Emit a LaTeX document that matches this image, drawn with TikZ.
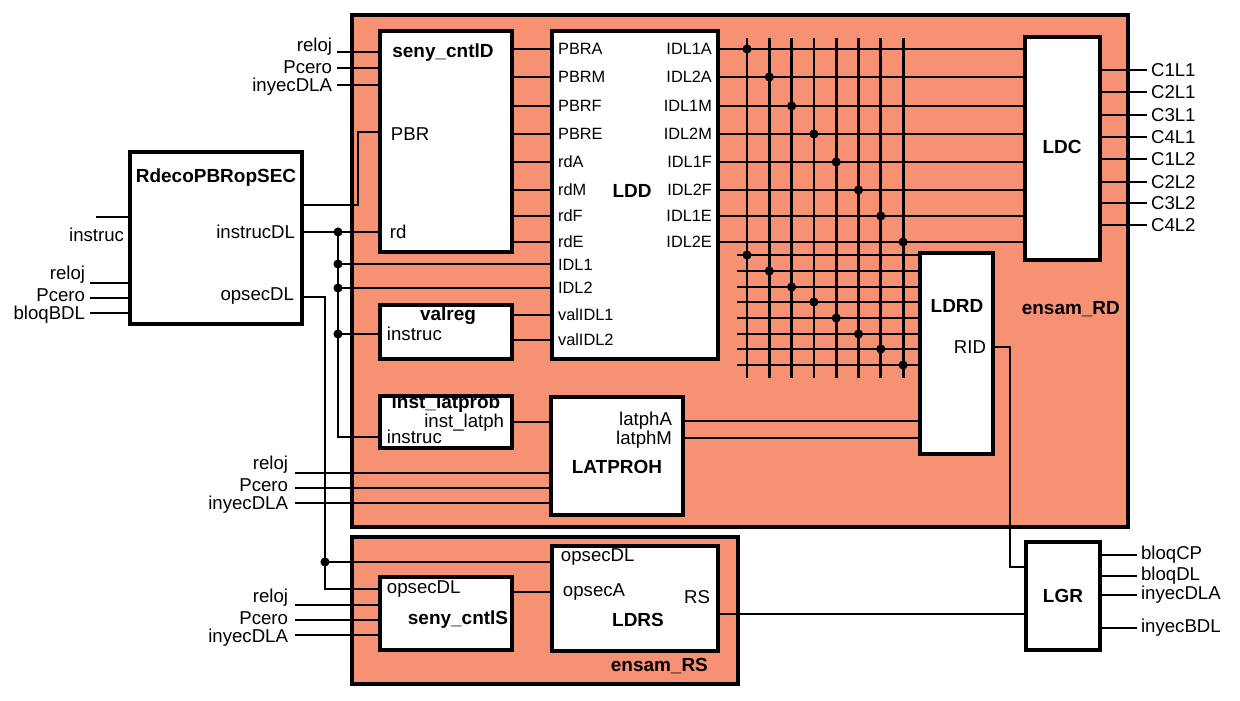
\documentclass[tikz,border=0pt]{standalone}
\usepackage{fontspec}
\setmainfont{Liberation Sans}
\usetikzlibrary{calc}
\definecolor{figS}{RGB}{246,145,116}
\tikzset{
  panel/.style 2 args={draw,line width=1.8pt,fill=figS,inner sep=0pt,outer sep=0pt,anchor=north west,minimum width=#1*0.02cm,minimum height=#2*0.02cm},
  blk/.style 2 args={draw,line width=2.2pt,fill=white,inner sep=0pt,outer sep=0pt,anchor=north west,minimum width=#1*0.02cm,minimum height=#2*0.02cm},
  wire/.style={line width=1.6pt},
  thinw/.style={line width=1.1pt},
  lbl/.style={font=\fontsize{10.6}{12}\selectfont,inner sep=1.5pt},
  pin/.style={font=\fontsize{9.3}{11}\selectfont,inner sep=1pt},
  ttl/.style={font=\fontsize{10.8}{12}\selectfont\bfseries,inner sep=1pt}
}

\begin{document}
\begin{tikzpicture}[x=0.02cm,y=-0.02cm]
\useasboundingbox (0,0) rectangle (1240,700);
% ensembles
\node[panel={776}{512}] (ensamRD) at (352,15) {};
\node[panel={386}{147}] (ensamRS) at (352,537) {};
\node[ttl,anchor=east] (ensamRDt) at (1122,309) {ensam\_RD};
\node[ttl,anchor=east] (ensamRSt) at (710,666) {ensam\_RS};
% blocks
\node[blk={172}{172}] (rdeco) at (130,152) {};
\node[blk={132}{221}] (senyD) at (380,31) {};
\node[blk={166}{328}] (ldd) at (552,31) {};
\node[blk={132}{54}] (valreg) at (380,305) {};
\node[blk={132}{52}] (instlat) at (380,396) {};
\node[blk={132}{118}] (latproh) at (551,397) {};
\node[blk={75}{223}] (ldc) at (1025,37) {};
\node[blk={73}{201}] (ldrd) at (920,253) {};
\node[blk={132}{73}] (senyS) at (380,577) {};
\node[blk={166}{105}] (ldrs) at (552,546) {};
\node[blk={74}{108}] (lgr) at (1026,542) {};
% block texts
\node[ttl] (rdecoT) at (216,178) {RdecoPBRopSEC};
\node[lbl,anchor=east] (rdecoI) at (298,232) {instrucDL};
\node[lbl,anchor=east] (rdecoO) at (297,296) {opsecDL};
\node[ttl] (senyDT) at (443,53) {seny\_cntlD};
\node[lbl,anchor=west] (senyDp) at (388,134) {PBR};
\node[lbl,anchor=west] (senyDr) at (387,232) {rd};
\node[ttl] (lddT) at (632,191) {LDD};
\node[pin,anchor=west] (lddI1) at (556,265) {IDL1};
\node[pin,anchor=west] (lddI2) at (556,288) {IDL2};
\node[pin,anchor=west] (lddV1) at (556,315) {valIDL1};
\node[pin,anchor=west] (lddV2) at (556,340) {valIDL2};
\node[ttl] (valregT) at (448,316) {valreg};
\node[lbl,anchor=west] (valregI) at (384,334) {instruc};
\node[ttl] (instlatT) at (446,404) {inst\_latprob};
\node[lbl,anchor=east] (instlatO) at (507,423) {inst\_latph};
\node[lbl,anchor=west] (instlatI) at (384,437) {instruc};
\node[lbl,anchor=east] (latA) at (675,421) {latphA};
\node[lbl,anchor=east] (latM) at (675,440) {latphM};
\node[ttl] (latT) at (617,467) {LATPROH};
\node[ttl] (ldcT) at (1062,147) {LDC};
\node[ttl] (ldrdT) at (957,306) {LDRD};
\node[lbl,anchor=east] (ldrdR) at (989,347) {RID};
\node[lbl,anchor=west] (senySI) at (384,589) {opsecDL};
\node[ttl] (senyST) at (458,620) {seny\_cntlS};
\node[lbl,anchor=west] (ldrsI) at (558,557) {opsecDL};
\node[lbl,anchor=west] (ldrsA) at (560,592) {opsecA};
\node[lbl,anchor=east] (ldrsR) at (713,597) {RS};
\node[ttl] (ldrsT) at (638,620) {LDRS};
\node[ttl] (lgrT) at (1063,596) {LGR};
% seny_cntlD -> LDD -> LDC
\foreach \y/\a/\b [count=\k] in {49/PBRA/IDL1A,77/PBRM/IDL2A,106/PBRF/IDL1M,134/PBRE/IDL2M,162/rdA/IDL1F,190/rdM/IDL2F,216/rdF/IDL1E,242/rdE/IDL2E}{
  \draw[wire] (senyD.east |- 0,\y) -- (ldd.west |- 0,\y);
  \draw[wire] (ldd.east |- 0,\y) -- (ldc.west |- 0,\y);
  \node[pin,anchor=west] (lddL\k) at (556,\y) {\a};
  \node[pin,anchor=east] (lddR\k) at (714,\y) {\b};
}
% crossbar into LDRD
\foreach \y/\yy [count=\k from 0] in {49/255,77/271,106/287,134/302,162/318,190/334,216/349,242/365}{
  \pgfmathsetmacro\xx{747+22.3*\k}
  \draw[wire] (\xx,38) -- (\xx,378);
  \draw[wire] (737,\yy) -- (ldrd.west |- 0,\yy);
  \fill (\xx,\y) circle (2.6pt) (\xx,\yy) circle (2.6pt);
}
% outputs
\foreach \y/\t [count=\k] in {70/C1L1,92/C2L1,115/C3L1,137/C4L1,159/C1L2,182/C2L2,203/C3L2,225/C4L2}
  \draw[wire] (ldc.east |- 0,\y) -- ++(47,0) node[lbl,right] (ldcO\k) {\t};
\foreach \y/\t [count=\k] in {555/bloqCP,576/bloqDL,595/inyecDLA,628/inyecBDL}
  \draw[wire] (lgr.east |- 0,\y) -- ++(37,0) node[lbl,right] (lgrO\k) {\t};
% inputs (labels spaced wider than their lines)
\foreach \y/\ty/\t [count=\k] in {52/47/reloj,68/67/Pcero,85/87/inyecDLA}{
  \draw[wire] (senyD.west |- 0,\y) -- (337,\y);
  \node[lbl,anchor=east] (inD\k) at (335,\ty) {\t};
}
\foreach \y/\ty/\t [count=\k] in {283/275/reloj,298/295/Pcero,313/315/bloqBDL}{
  \draw[wire] (rdeco.west |- 0,\y) -- (90,\y);
  \node[lbl,anchor=east] (inR\k) at (88,\ty) {\t};
}
\draw[wire] (rdeco.west |- 0,217) -- ++(-34,0);
\node[lbl,anchor=east] (inRi) at (127,235) {instruc};
\foreach \y/\ty/\t [count=\k] in {473/465/reloj,488/485/Pcero,503/505/inyecDLA}{
  \draw[wire] (latproh.west |- 0,\y) -- (295,\y);
  \node[lbl,anchor=east] (inL\k) at (291,\ty) {\t};
}
\foreach \y/\ty/\t [count=\k] in {605/598/reloj,620/618/Pcero,635/638/inyecDLA}{
  \draw[wire] (senyS.west |- 0,\y) -- (295,\y);
  \node[lbl,anchor=east] (inS\k) at (291,\ty) {\t};
}
% RdecoPBRopSEC outputs
\coordinate (busI) at (338,232);
\coordinate (busO) at (325,562);
\draw[wire] (rdeco.east |- 0,205) -- (358,205) |- (senyD.west |- 0,132);
\draw[wire] (rdeco.east |- 0,232) -- (senyD.west |- 0,232);
\draw[wire] (busI) |- (instlat.west |- 0,437);
\draw[thinw] (busI |- 0,264) -- (ldd.west |- 0,264);
\draw[wire] (busI |- 0,288) -- (ldd.west |- 0,288);
\draw[wire] (busI |- 0,334) -- (valreg.west |- 0,334);
\draw[wire] (rdeco.east |- 0,297) -| (busO |- 0,589) -- (senyS.west |- 0,589);
\draw[thinw] (busO) -- (ldrs.west |- 0,562);
\foreach \y in {232,264,288,334} \fill (338,\y) circle (2.6pt);
\fill (busO) circle (2.6pt);
% internal links
\draw[thinw] (valreg.east |- 0,315) -- (ldd.west |- 0,315);
\draw[wire] (valreg.east |- 0,340) -- (ldd.west |- 0,340);
\draw[thinw] (instlat.east |- 0,422) -- (latproh.west |- 0,422);
\draw[thinw] (latproh.east |- 0,421) -- (ldrd.west |- 0,421);
\draw[thinw] (latproh.east |- 0,438) -- (ldrd.west |- 0,438);
\draw[wire] (senyS.east |- 0,592) -- (ldrs.west |- 0,592);
\draw[thinw] (ldrd.east |- 0,347) -| (1010,567) -- (lgr.west |- 0,567);
\draw[thinw] (ldrs.east |- 0,614) -- (lgr.west |- 0,614);
\end{tikzpicture}
\end{document}
